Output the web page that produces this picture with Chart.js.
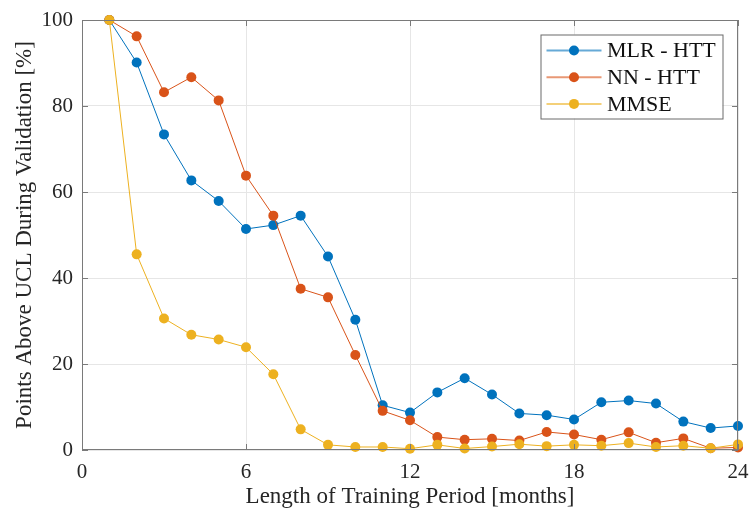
<!DOCTYPE html>
<html lang="en">

<head>
    <meta charset="UTF-8">
    <title>Points Above UCL</title>
    <script src="https://cdn.jsdelivr.net/npm/chart.js"></script>
    <style>
        html, body { margin: 0; padding: 0; background: #fff; }
        #wrap { width: 749px; height: 509px; }
    </style>
</head>

<body>
    <div id="wrap">
        <canvas id="myChart" width="749" height="509"></canvas>
    </div>

    <script>
        // dados
        const meses = [1, 2, 3, 4, 5, 6, 7, 8, 9, 10, 11, 12, 13, 14, 15, 16, 17, 18, 19, 20, 21, 22, 23, 24];
        const mlrHtt = [100, 90.1, 73.4, 62.7, 57.9, 51.4, 52.3, 54.5, 45.0, 30.3, 10.4, 8.7, 13.4, 16.7, 12.9, 8.5, 8.1, 7.1, 11.1, 11.5, 10.8, 6.6, 5.1, 5.6];
        const nnHtt = [100, 96.2, 83.2, 86.7, 81.3, 63.8, 54.5, 37.5, 35.5, 22.1, 9.1, 6.9, 3.0, 2.4, 2.6, 2.2, 4.2, 3.6, 2.4, 4.1, 1.7, 2.7, 0.4, 0.6];
        const mmse = [100, 45.5, 30.6, 26.8, 25.7, 23.9, 17.6, 4.8, 1.2, 0.7, 0.7, 0.3, 1.2, 0.35, 0.8, 1.35, 0.9, 1.2, 1.0, 1.6, 0.7, 1.0, 0.4, 1.3];
        const nomes = ['MLR - HTT', 'NN - HTT', 'MMSE'];
        const xTicks = [0, 6, 12, 18, 24];
        const yTicks = [0, 20, 40, 60, 80, 100];

        const cores = ['#0072BD', '#D95319', '#EDB120'];
        const fonte = '"Liberation Serif", "Times New Roman", serif';
        const corTexto = '#262626';
        const corEixo = '#7a7a7a';

        function pontos(valores) {
            return meses.map((m, i) => ({ x: m, y: valores[i] }));
        }

        function serie(i, valores, ordem) {
            return {
                label: nomes[i],
                data: pontos(valores),
                borderColor: cores[i],
                backgroundColor: cores[i],
                borderWidth: 1,
                pointRadius: 5,
                pointBorderWidth: 0,
                pointHoverRadius: 5,
                tension: 0,
                clip: false,
                order: ordem
            };
        }

        // caixa do grafico com ticks para dentro, estilo matlab
        const caixaPlugin = {
            id: 'caixa',
            afterDatasetsDraw(chart) {
                const { ctx, chartArea: a, scales } = chart;
                const len = 6;
                ctx.save();
                ctx.strokeStyle = corEixo;
                ctx.lineWidth = 1;
                ctx.strokeRect(a.left + 0.5, a.top + 0.5, a.right - a.left - 1, a.bottom - a.top - 1);
                ctx.beginPath();
                xTicks.forEach(t => {
                    const x = Math.round(scales.x.getPixelForValue(t)) + 0.5;
                    ctx.moveTo(x, a.bottom); ctx.lineTo(x, a.bottom - len);
                    ctx.moveTo(x, a.top); ctx.lineTo(x, a.top + len);
                });
                yTicks.forEach(t => {
                    const y = Math.round(scales.y.getPixelForValue(t)) + 0.5;
                    ctx.moveTo(a.left, y); ctx.lineTo(a.left + len, y);
                    ctx.moveTo(a.right, y); ctx.lineTo(a.right - len, y);
                });
                ctx.stroke();

                // legenda dentro da area
                const bx = a.right - 197.5, by = a.top + 14.5, bw = 182, bh = 84;
                ctx.fillStyle = '#fff';
                ctx.fillRect(bx, by, bw, bh);
                ctx.strokeStyle = '#6a6a6a';
                ctx.strokeRect(bx + 0.5, by + 0.5, bw, bh);
                ctx.font = '22px ' + fonte;
                ctx.textBaseline = 'middle';
                chart.data.datasets.forEach((ds, i) => {
                    const y = by + 16 + i * 26.7;
                    ctx.strokeStyle = ds.borderColor;
                    ctx.globalAlpha = 0.6;
                    ctx.lineWidth = 2;
                    ctx.beginPath();
                    ctx.moveTo(bx + 6, y); ctx.lineTo(bx + 61, y);
                    ctx.stroke();
                    ctx.globalAlpha = 1;
                    ctx.fillStyle = ds.backgroundColor;
                    ctx.beginPath();
                    ctx.arc(bx + 33.5, y, 5, 0, Math.PI * 2);
                    ctx.fill();
                    ctx.fillStyle = '#111';
                    ctx.fillText(ds.label, bx + 66.5, y + 1);
                });
                ctx.restore();
            }
        };

        const config = {
            type: 'line',
            data: {
                datasets: [
                    serie(0, mlrHtt, 3),
                    serie(1, nnHtt, 2),
                    serie(2, mmse, 1)
                ]
            },
            options: {
                responsive: false,
                animation: false,
                layout: { autoPadding: false, padding: { top: 20, right: 11, left: 0, bottom: 0 } },
                plugins: {
                    legend: { display: false },
                    tooltip: { enabled: false }
                },
                scales: {
                    x: {
                        type: 'linear',
                        min: 0,
                        max: 24,
                        afterBuildTicks: s => { s.ticks = xTicks.map(v => ({ value: v })); },
                        afterFit: s => { s.height = 59; s.paddingLeft = 0; s.paddingRight = 0; },
                        grid: { color: '#e6e6e6', lineWidth: 1, drawTicks: false },
                        border: { display: false },
                        ticks: {
                            color: corTexto,
                            padding: 10,
                            maxRotation: 0,
                            font: { family: fonte, size: 21 }
                        },
                        title: {
                            display: true,
                            text: 'Length of Training Period [months]',
                            color: corTexto,
                            padding: { top: 0, bottom: -2 },
                            font: { family: fonte, size: 23 }
                        }
                    },
                    y: {
                        min: 0,
                        max: 100,
                        afterBuildTicks: s => { s.ticks = yTicks.map(v => ({ value: v })); },
                        afterFit: s => { s.width = 82; s.paddingTop = 0; s.paddingBottom = 0; },
                        grid: { color: '#e6e6e6', lineWidth: 1, drawTicks: false },
                        border: { display: false },
                        ticks: {
                            color: corTexto,
                            padding: 9,
                            font: { family: fonte, size: 21 }
                        },
                        title: {
                            display: true,
                            text: 'Points Above UCL During Validation [%]',
                            color: corTexto,
                            padding: { top: 11, bottom: 0 },
                            font: { family: fonte, size: 23 }
                        }
                    }
                }
            },
            plugins: [caixaPlugin]
        };

        const myChart = new Chart(document.getElementById('myChart'), config);
    </script>
</body>

</html>
